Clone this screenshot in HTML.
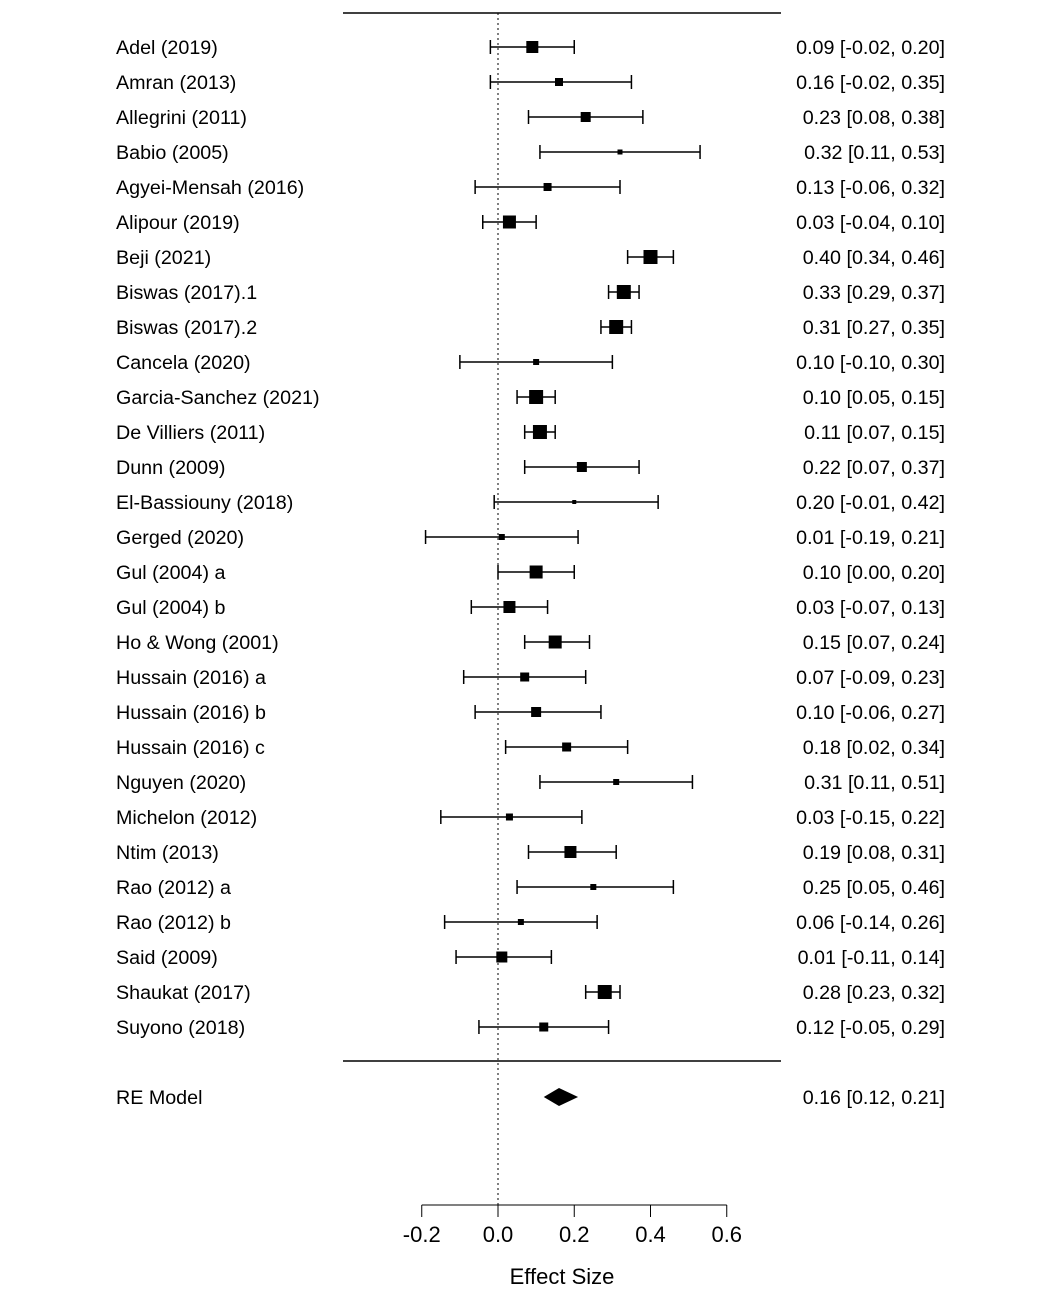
<!DOCTYPE html>
<html><head><meta charset="utf-8"><style>
body{margin:0;background:#fff}
svg text{font-family:"Liberation Sans",Arial,sans-serif;fill:#000}
</style></head><body>
<svg id="chart" width="1063" height="1300">
<g id="g"></g>
</svg>
<script>
const studies=["Adel (2019)","Amran (2013)","Allegrini (2011)","Babio (2005)","Agyei-Mensah (2016)","Alipour (2019)","Beji (2021)","Biswas (2017).1","Biswas (2017).2","Cancela (2020)","Garcia-Sanchez (2021)","De Villiers (2011)","Dunn (2009)","El-Bassiouny (2018)","Gerged (2020)","Gul (2004) a","Gul (2004) b","Ho & Wong (2001)","Hussain (2016) a","Hussain (2016) b","Hussain (2016) c","Nguyen (2020)","Michelon (2012)","Ntim (2013)","Rao (2012) a","Rao (2012) b","Said (2009)","Shaukat (2017)","Suyono (2018)"];
const est=[0.09,0.16,0.23,0.32,0.13,0.03,0.40,0.33,0.31,0.10,0.10,0.11,0.22,0.20,0.01,0.10,0.03,0.15,0.07,0.10,0.18,0.31,0.03,0.19,0.25,0.06,0.01,0.28,0.12];
const lo=[-0.02,-0.02,0.08,0.11,-0.06,-0.04,0.34,0.29,0.27,-0.10,0.05,0.07,0.07,-0.01,-0.19,0.00,-0.07,0.07,-0.09,-0.06,0.02,0.11,-0.15,0.08,0.05,-0.14,-0.11,0.23,-0.05];
const hi=[0.20,0.35,0.38,0.53,0.32,0.10,0.46,0.37,0.35,0.30,0.15,0.15,0.37,0.42,0.21,0.20,0.13,0.24,0.23,0.27,0.34,0.51,0.22,0.31,0.46,0.26,0.14,0.32,0.29];
const loText=["-0.02","-0.02","0.08","0.11","-0.06","-0.04","0.34","0.29","0.27","-0.10","0.05","0.07","0.07","-0.01","-0.19","0.00","-0.07","0.07","-0.09","-0.06","0.02","0.11","-0.15","0.08","0.05","-0.14","-0.11","0.23","-0.05"];
const weights=[12,8,10,5,8,13,14,14,14,6,14,14,10,4,6,13,12,13,9,10,9,6,7,12,6,6,11,14,9];
const reEst=0.16, reLo=0.12, reHi=0.21;
const ticks=[-0.2,0,0.2,0.4,0.6];
const tickLabels=["-0.2","0.0","0.2","0.4","0.6"];

const g=document.getElementById('g');
const NS="http://www.w3.org/2000/svg";
const X=v=>498+v*381.25;
const Y=i=>47+i*35;
const FS=19.7;
function mk(t,a,txt){const e=document.createElementNS(NS,t);for(const k in a)e.setAttribute(k,a[k]);if(txt!==undefined)e.textContent=txt;g.appendChild(e);return e;}
let e;
e=mk('line',{x1:343,x2:781,y1:13,y2:13,stroke:'#000','stroke-width':1.5});


e=mk('line',{x1:343,x2:781,y1:1061,y2:1061,stroke:'#000','stroke-width':1.5});


e=mk('line',{x1:X(0),x2:X(0),y1:13,y2:1205,stroke:'#000','stroke-width':1,'stroke-dasharray':'2,3'});


const f=v=>v.toFixed(2);
studies.forEach((s,i)=>{
  const y=Y(i);
  e=mk('text',{x:116,y:y+7,'font-size':FS},s);
  
  
  e=mk('line',{x1:X(lo[i]),x2:X(hi[i]),y1:y,y2:y,stroke:'#000','stroke-width':1.5});
  
  
  [lo[i],hi[i]].forEach(v=>{
    e=mk('line',{x1:X(v),x2:X(v),y1:y-7,y2:y+7,stroke:'#000','stroke-width':1.5});
    
    
  });
  const w=weights[i];
  e=mk('rect',{x:X(est[i])-w/2,y:y-w/2,width:w,height:w,fill:'#000'});
  
  
  e=mk('text',{x:945,y:y+7,'font-size':FS,'text-anchor':'end'},f(est[i])+' ['+loText[i]+', '+f(hi[i])+']');
  
  
});
const ry=1097;
e=mk('text',{x:116,y:ry+7,'font-size':FS},'RE Model');


e=mk('polygon',{points:`${X(reLo)},${ry} ${X(reEst)},${ry-9} ${X(reHi)},${ry} ${X(reEst)},${ry+9}`,fill:'#000'});


e=mk('text',{x:945,y:ry+7,'font-size':FS,'text-anchor':'end'},f(reEst)+' ['+f(reLo)+', '+f(reHi)+']');


e=mk('line',{x1:X(ticks[0]),x2:X(ticks[ticks.length-1]),y1:1205,y2:1205,stroke:'#000','stroke-width':1});


ticks.forEach((t,i)=>{
  e=mk('line',{x1:X(t),x2:X(t),y1:1205,y2:1217,stroke:'#000','stroke-width':1});
  
  
  e=mk('text',{x:X(t),y:1242,'font-size':22,'text-anchor':'middle'},tickLabels[i]);
  
  
});
e=mk('text',{x:562,y:1284,'font-size':22,'text-anchor':'middle'},'Effect Size');


</script>
</body></html>
